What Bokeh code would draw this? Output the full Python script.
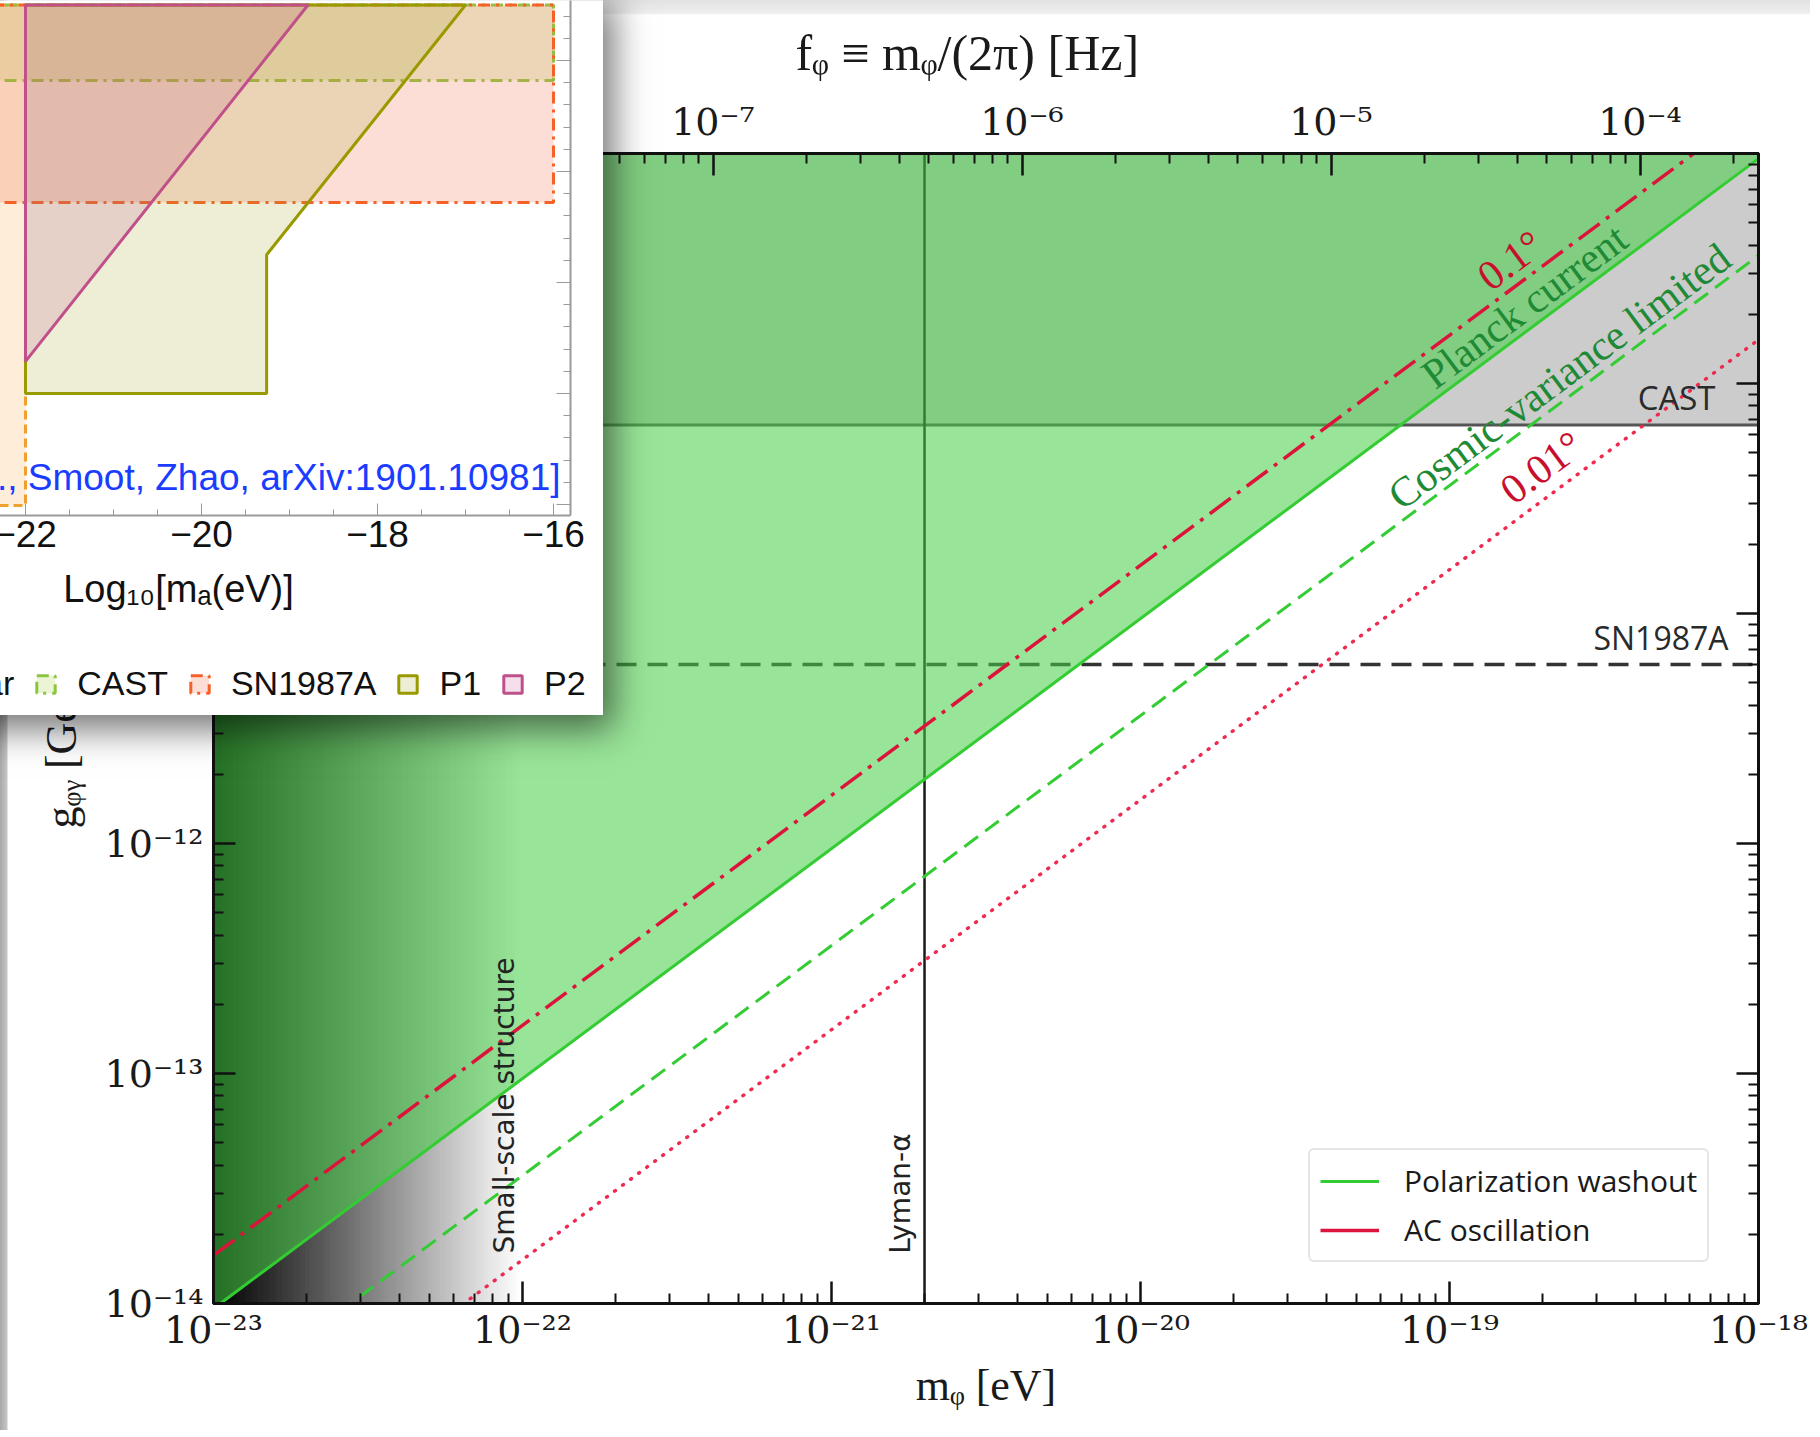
import numpy as np
from bokeh.plotting import figure
from bokeh.models import (Range1d, LogScale, LogAxis, LinearAxis, FixedTicker, Label,
                          Legend, LegendItem)
from bokeh.layouts import column
from bokeh.embed import file_html
from bokeh.resources import INLINE

# ---------------- data: main chart ----------------
m_range = [1e-23, 1e-18]            # m_phi [eV]
g_range = [1e-14, 1e-9]             # g_phi_gamma [GeV^-1]
m_ticks = [1e-23, 1e-22, 1e-21, 1e-20, 1e-19, 1e-18]
m_tick_labels = ["10⁻²³", "10⁻²²", "10⁻²¹", "10⁻²⁰", "10⁻¹⁹", "10⁻¹⁸"]
g_ticks = [1e-14, 1e-13, 1e-12, 1e-11, 1e-10, 1e-9]
g_tick_labels = ["10⁻¹⁴", "10⁻¹³", "10⁻¹²", "10⁻¹¹", "10⁻¹⁰", "10⁻⁹"]
f_ticks = [1e-8, 1e-7, 1e-6, 1e-5, 1e-4]
f_tick_labels = ["10⁻⁸", "10⁻⁷", "10⁻⁶", "10⁻⁵", "10⁻⁴"]
ev_to_hz = 2.418e14                 # f = m / (2 pi hbar)

line_m = [1e-23, 1e-18]
planck_current_g = [9.5e-15, 9.5e-10]
cosmic_variance_g = [3.6e-15, 3.6e-10]
ac_01deg_g = [1.62e-14, 1.62e-9]
ac_001deg_g = [1.55e-15, 1.55e-10]
g_cast = 6.6e-11
g_sn1987a = 6.0e-12
m_lyman_alpha = 2.0e-21
m_small_scale = 1.0e-22

# ---------------- data: inset (log10 units) ----------------
ins_x_ticks = [-22, -20, -18, -16]
ins_x_tick_labels = ["−22", "−20", "−18", "−16"]
p1_x = [-22.0, -17.0, -19.26, -19.26, -22.0]
p1_y = [-9.5, -9.5, -11.75, -13.0, -13.0]
p2_x = [-22.0, -18.79, -22.0]
p2_y = [-9.5, -9.5, -12.71]
cast_x = [-25.0, -16.0, -16.0, -25.0]
cast_y = [-10.18, -10.18, -9.5, -9.5]
sn_x = [-25.0, -16.0, -16.0, -25.0]
sn_y = [-11.28, -11.28, -9.5, -9.5]
left_x = [-25.0, -22.0, -22.0, -25.0]
left_y = [-14.01, -14.01, -9.5, -9.5]

GREEN = "#33cc33"
RED = "#dc143c"
SERIF = "Liberation Serif"
TICKFONT = "DejaVu Serif"


def decade_minors(lo, hi):
    return [k * 10.0 ** e for e in range(lo, hi) for k in range(2, 10)]


def style_axis(ax, ticks, minors, labels, show=True):
    ax.ticker = FixedTicker(ticks=ticks, minor_ticks=minors)
    ax.major_label_overrides = dict(zip(ticks, labels))
    ax.axis_line_width = 3
    ax.axis_line_color = "#111111"
    ax.major_tick_in = 22
    ax.major_tick_out = 0
    ax.minor_tick_in = 10
    ax.minor_tick_out = 0
    ax.major_tick_line_width = 2.5
    ax.minor_tick_line_width = 2
    ax.major_tick_line_color = "#111111"
    ax.minor_tick_line_color = "#111111"
    ax.major_label_text_font = TICKFONT
    ax.major_label_text_font_size = "38px"
    ax.major_label_text_color = "#1a1a1a" if show else None
    ax.axis_label_text_font = SERIF
    ax.axis_label_text_font_size = "44px"
    ax.axis_label_text_font_style = "normal"
    ax.axis_label_text_color = "#1a1a1a"


BG = ("linear-gradient(to right, #a8a8a8 0px, #c6c6c6 7px, rgba(255,255,255,0) 8px), "
      "linear-gradient(to bottom, #e2e2e2 0px, #eeeeee 13px, #ffffff 15px)")

p = figure(width=1810, height=1430, x_axis_type="log", y_axis_type="log",
           x_range=Range1d(*m_range), y_range=Range1d(*g_range),
           output_backend="svg", toolbar_location=None,
           min_border_left=213, min_border_right=52, min_border_top=153,
           min_border_bottom=127, background_fill_color="white",
           border_fill_color=None, styles={"background": BG})
p.grid.visible = False
p.outline_line_color = "#111111"
p.outline_line_width = 3

bottom = p.below[0]
style_axis(bottom, m_ticks, decade_minors(-23, -18), m_tick_labels)
bottom.major_label_standoff = 4
bottom.axis_label = "mᵩ [eV]"
bottom.axis_label_standoff = 6

left = p.left[0]
style_axis(left, g_ticks, decade_minors(-14, -9), g_tick_labels)
left.major_label_standoff = 10
left.axis_label = "gᵩᵧ [GeV⁻¹]"
left.axis_label_standoff = 16

p.extra_x_ranges = {"hz": Range1d(m_range[0] * ev_to_hz, m_range[1] * ev_to_hz)}
p.extra_x_scales = {"hz": LogScale()}
top = LogAxis(x_range_name="hz")
style_axis(top, f_ticks, decade_minors(-9, -3), f_tick_labels)
top.major_label_standoff = 10
top.axis_label = "fᵩ  ≡  mᵩ/(2π)  [Hz]"
top.axis_label_text_font_size = "50px"
top.axis_label_standoff = 16
p.add_layout(top, "above")

right = LogAxis()
style_axis(right, g_ticks, decade_minors(-14, -9), g_tick_labels, show=False)
right.major_label_text_font_size = "8px"
p.add_layout(right, "right")

# small-scale structure shading (black -> white)
n = 90
edges = np.logspace(np.log10(m_range[0]), np.log10(m_small_scale), n + 1)
shade = np.linspace(0, 255, n).astype(int)
cols = ["#%02x%02x%02x" % (s, s, s) for s in shade]
p.quad(left=edges[:-1], right=edges[1:], bottom=g_range[0], top=g_range[1],
       fill_color=cols, line_color=cols, line_width=1)

# CAST excluded band and reference lines
p.varea(x=m_range, y1=[g_cast, g_cast], y2=[g_range[1], g_range[1]],
        fill_color="#cccccc")
p.line(m_range, [g_cast, g_cast], line_color="#555555", line_width=3)
p.line(m_range, [g_sn1987a, g_sn1987a], line_color="#333333", line_width=3.5,
       line_dash="20 11")
p.line([m_lyman_alpha, m_lyman_alpha], g_range, line_color="#1a1a1a", line_width=2.5)

# Planck current excluded region
p.varea(x=line_m, y1=planck_current_g, y2=[g_range[1], g_range[1]],
        fill_color="#44ce44", fill_alpha=0.55)

p.line(line_m, ac_01deg_g, line_color=RED, line_width=3.5, line_dash="26 8 4 8")
planck_r = p.line(line_m, planck_current_g, line_color=GREEN, line_width=3)
p.line(line_m, cosmic_variance_g, line_color=GREEN, line_width=3, line_dash="17 9")
p.line(line_m, ac_001deg_g, line_color="#ee2a50", line_width=3.5, line_dash="1 9",
       line_cap="round")
# solid red swatch for the legend (renderer itself hidden)
red_proxy = p.line(line_m, ac_01deg_g, line_color=RED, line_width=3.5, visible=False)

ANG = 0.64


def lab(fig, x, y, text, **kw):
    fig.add_layout(Label(x=x, y=y, text=text, **kw))


lab(p, 10 ** -18.757, 10 ** -9.665, "Planck current", angle=ANG, text_align="center",
    text_baseline="middle", text_font=SERIF, text_font_size="42px", text_color="#1f8a35")
lab(p, 10 ** -18.644, 10 ** -9.970, "Cosmic-variance limited", angle=ANG,
    text_align="center", text_baseline="middle", text_font=SERIF,
    text_font_size="42px", text_color="#1f8a35")
lab(p, 10 ** -18.803, 10 ** -9.465, "0.1°", angle=ANG, text_align="center",
    text_baseline="middle", text_font=SERIF, text_font_size="42px", text_color="#c8102e")
lab(p, 10 ** -18.702, 10 ** -10.365, "0.01°", angle=ANG, text_align="center",
    text_baseline="middle", text_font=SERIF, text_font_size="42px", text_color="#c8102e")
lab(p, 10 ** -18.139, 10 ** -10.063, "CAST", text_align="right",
    text_baseline="alphabetic", text_font="Open Sans", text_font_size="33px",
    text_color="#2a2a2a")
lab(p, 10 ** -18.097, 10 ** -11.103, "SN1987A", text_align="right",
    text_baseline="alphabetic", text_font="Open Sans", text_font_size="32px",
    text_color="#2a2a2a")
lab(p, 10 ** -22.058, 10 ** -13.139, "Small-scale structure", angle=np.pi / 2,
    text_align="center", text_baseline="middle", text_font="DejaVu Sans",
    text_font_size="28px", text_color="#222222")
lab(p, 10 ** -20.777, 10 ** -13.522, "Lyman-α", angle=np.pi / 2,
    text_align="center", text_baseline="middle", text_font="DejaVu Sans",
    text_font_size="28px", text_color="#222222")

leg = Legend(items=[LegendItem(label="Polarization washout", renderers=[planck_r]),
                    LegendItem(label="AC oscillation", renderers=[red_proxy])],
             location=(1095, 41), label_text_font="Open Sans",
             label_text_font_size="30px", label_text_color="#1a1a1a",
             glyph_width=59, glyph_height=40, label_height=40, label_standoff=25,
             spacing=8, padding=10, margin=0, border_line_color="#cccccc",
             border_line_width=2, border_radius=6, background_fill_alpha=0.9,
             inactive_fill_alpha=0)
p.add_layout(leg)

# ---------------- inset (overlapping screenshot, partly off-page) ----------------
INS_SHIFT = 214
ins = figure(width=603 + INS_SHIFT, height=715, x_range=Range1d(-24.716, -15.807),
             y_range=Range1d(-14.099, -9.459), x_axis_location=None,
             y_axis_location=None, toolbar_location=None, output_backend="svg",
             min_border_left=0, min_border_right=33, min_border_top=0,
             min_border_bottom=200, outline_line_color=None,
             background_fill_color="white", border_fill_color="white",
             styles={"position": "absolute", "left": "-%dpx" % INS_SHIFT, "top": "0px",
                     "z-index": "10",
                     "box-shadow": "4px 8px 34px 6px rgba(0,0,0,0.55)"})
ins.grid.visible = False

ib = LinearAxis(ticker=FixedTicker(ticks=ins_x_ticks,
                                   minor_ticks=list(np.arange(-25.0, -15.4, 0.5))))
ib.major_label_overrides = dict(zip(ins_x_ticks, ins_x_tick_labels))
ib.axis_line_color = "#9a9a9a"
ib.axis_line_width = 2
for a in ("major", "minor"):
    setattr(ib, a + "_tick_line_color", "#9a9a9a")
    setattr(ib, a + "_tick_out", 0)
ib.major_tick_in = 12
ib.minor_tick_in = 6
ib.major_label_text_font = "Liberation Sans"
ib.major_label_text_font_size = "37px"
ib.major_label_text_color = "#111111"
ib.major_label_standoff = 5
ib.axis_label = "Log₁₀[mₐ(eV)]"
ib.axis_label_text_font = "Liberation Sans"
ib.axis_label_text_font_size = "38px"
ib.axis_label_text_font_style = "normal"
ib.axis_label_text_color = "#111111"
ib.axis_label_standoff = 18
ins.add_layout(ib, "below")

ir = LinearAxis(ticker=FixedTicker(ticks=[-14, -13, -12, -11, -10],
                                   minor_ticks=list(np.arange(-14.2, -9.3, 0.2))))
ir.axis_line_color = "#9a9a9a"
ir.axis_line_width = 2
ir.major_tick_line_color = "#9a9a9a"
ir.minor_tick_line_color = "#9a9a9a"
ir.major_tick_in = 14
ir.minor_tick_in = 7
ir.major_tick_out = 0
ir.minor_tick_out = 0
ir.major_label_text_font_size = "8px"
ir.major_label_text_color = None
ins.add_layout(ir, "right")

STY = {
    "left": dict(fill_color="#f5a340", fill_alpha=0.2, line_color="#f0a030",
                 line_dash="9 5", line_width=3),
    "cast": dict(fill_color="#9acd32", fill_alpha=0.2, line_color="#8cc63f",
                 line_dash="12 6 3 6", line_width=3),
    "sn": dict(fill_color="#f47a5a", fill_alpha=0.25, line_color="#f4622a",
               line_dash="12 6 3 6", line_width=3),
    "p1": dict(fill_color="#a0a020", fill_alpha=0.18, line_color="#999900", line_width=3),
    "p2": dict(fill_color="#c0508a", fill_alpha=0.18, line_color="#c0508a", line_width=3),
}
shapes = [("left", left_x, left_y), ("cast", cast_x, cast_y), ("sn", sn_x, sn_y),
          ("p1", p1_x, p1_y), ("p2", p2_x, p2_y)]
for key, xs, ys in shapes:
    ins.patch(xs, ys, **STY[key])

lab(ins, 560 + INS_SHIFT, 38, "., Smoot, Zhao, arXiv:1901.10981]", x_units="screen",
    y_units="screen", text_align="right", text_baseline="alphabetic",
    text_font="Liberation Sans", text_font_size="37px", text_color="#1a3cff")

# legend row of the inset (separate strip laid over the inset's lower part)
legfig = figure(width=603 + INS_SHIFT, height=75, x_range=Range1d(0, 1),
                y_range=Range1d(0, 1), x_axis_location=None, y_axis_location=None,
                toolbar_location=None, output_backend="svg", min_border=0,
                outline_line_color=None, background_fill_color="white",
                border_fill_color="white",
                styles={"position": "absolute", "left": "-%dpx" % INS_SHIFT,
                        "top": "640px", "z-index": "11"})
legfig.grid.visible = False
proxies = {}
for key, xs, ys in shapes:
    proxies[key] = legfig.patch(xs, ys, visible=False, **STY[key])

ileg = Legend(items=[LegendItem(label="ar", renderers=[proxies["left"]]),
                     LegendItem(label="CAST", renderers=[proxies["cast"]]),
                     LegendItem(label="SN1987A", renderers=[proxies["sn"]]),
                     LegendItem(label="P1", renderers=[proxies["p1"]]),
                     LegendItem(label="P2", renderers=[proxies["p2"]])],
              orientation="horizontal", location=(155, 12),
              label_text_font="Liberation Sans", label_text_font_size="34px",
              label_text_color="#111111", glyph_width=23, glyph_height=22,
              label_height=22, label_standoff=20, spacing=20, padding=0, margin=0,
              border_line_color=None, background_fill_alpha=0, inactive_fill_alpha=0)
legfig.add_layout(ileg)

try:
    for f in (p, ins, legfig):
        f.frame_align = False
    layout = column(p, ins, legfig)
except Exception:
    layout = [p, ins, legfig]

open("out.html", "w").write(file_html(layout, INLINE))
